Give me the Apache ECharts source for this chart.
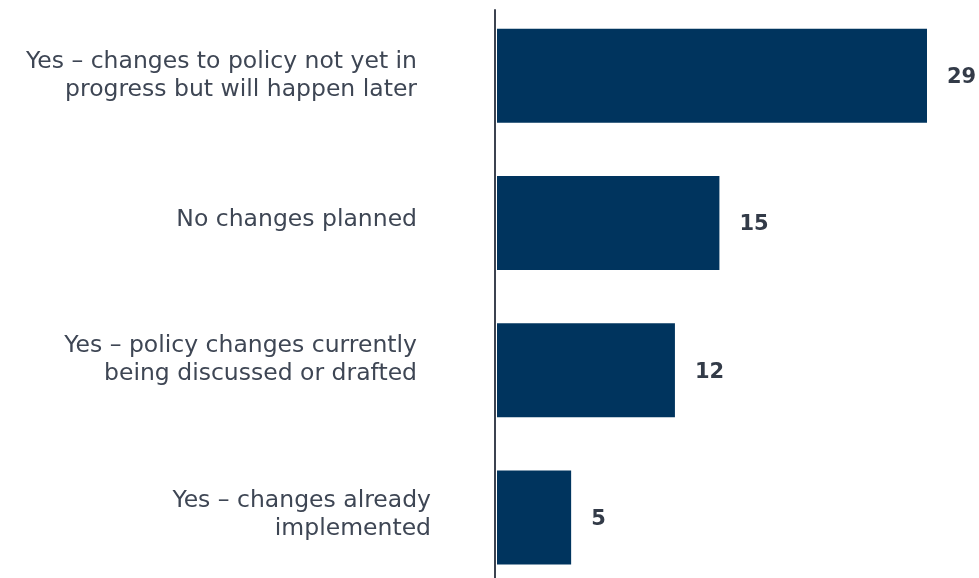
<!DOCTYPE html>
<html>
<head>
<meta charset="utf-8">
<script src="https://cdn.jsdelivr.net/npm/echarts@6/dist/echarts.min.js"></script>
<style>
  html, body { margin: 0; padding: 0; background: #ffffff; }
  #chart { width: 979px; height: 578px; }
</style>
</head>
<body>
<div id="chart"></div>
<script>
// Survey responses: planned policy changes (counts)
const categories = [
  'Yes – changes to policy not yet in\nprogress but will happen later',
  'No changes planned',
  'Yes – policy changes currently\nbeing discussed or drafted',
  'Yes – changes already\nimplemented'
];
const counts = [29, 15, 12, 5];

const FONT = "'DejaVu Sans', Verdana, sans-serif";
const TEXT = '#3e4654';
const BAR = '#00345e';

// right padding shifts the first three labels left of the last one
const categoryItems = categories.map((name, i) => ({
  value: name,
  textStyle: { padding: i < 3 ? [0, 14, 0, 0] : 0 }
}));
// an empty trailing line of this height lifts each label block slightly
const spacerStyles = ['s0', 's6', 's20', 's4'];

const chart = echarts.init(document.getElementById('chart'), null, { renderer: 'canvas' });
chart.setOption({
  animation: false,
  backgroundColor: '#ffffff',
  grid: [
    { left: 497, right: 52, top: 2, height: 589, containLabel: false, outerBoundsMode: 'none' },
    { left: 495, right: 52, top: 10, bottom: 0, containLabel: false, outerBoundsMode: 'none' }
  ],
  xAxis: [
    { type: 'value', gridIndex: 0, min: 0, max: 29, show: false },
    { type: 'value', gridIndex: 1, min: 0, max: 1, show: false }
  ],
  yAxis: [
    {
      type: 'category',
      gridIndex: 0,
      inverse: true,
      data: categoryItems,
      axisLine: { show: false },
      axisTick: { show: false },
      splitLine: { show: false },
      axisLabel: {
        margin: 66,
        color: TEXT,
        fontFamily: FONT,
        fontSize: 23.5,
        lineHeight: 28,
        align: 'right',
        formatter: (value, index) =>
          index === 0 ? value : value + '\n{' + spacerStyles[index] + '|}',
        rich: {
          s0: { lineHeight: 0, fontSize: 1 },
          s6: { lineHeight: 6, fontSize: 1 },
          s20: { lineHeight: 20, fontSize: 1 },
          s4: { lineHeight: 4, fontSize: 1 }
        }
      }
    },
    {
      type: 'value',
      gridIndex: 1,
      min: 0,
      max: 1,
      axisLine: { show: true, onZero: false, lineStyle: { color: '#3c4350', width: 2 } },
      axisTick: { show: false },
      axisLabel: { show: false },
      splitLine: { show: false }
    }
  ],
  series: [{
    type: 'bar',
    xAxisIndex: 0,
    yAxisIndex: 0,
    data: counts,
    barWidth: 94,
    itemStyle: { color: BAR },
    label: {
      show: true,
      position: 'right',
      distance: 20,
      offset: [0, 2],
      color: '#333b48',
      fontFamily: FONT,
      fontWeight: 'bold',
      fontSize: 21
    }
  }]
});
</script>
</body>
</html>
